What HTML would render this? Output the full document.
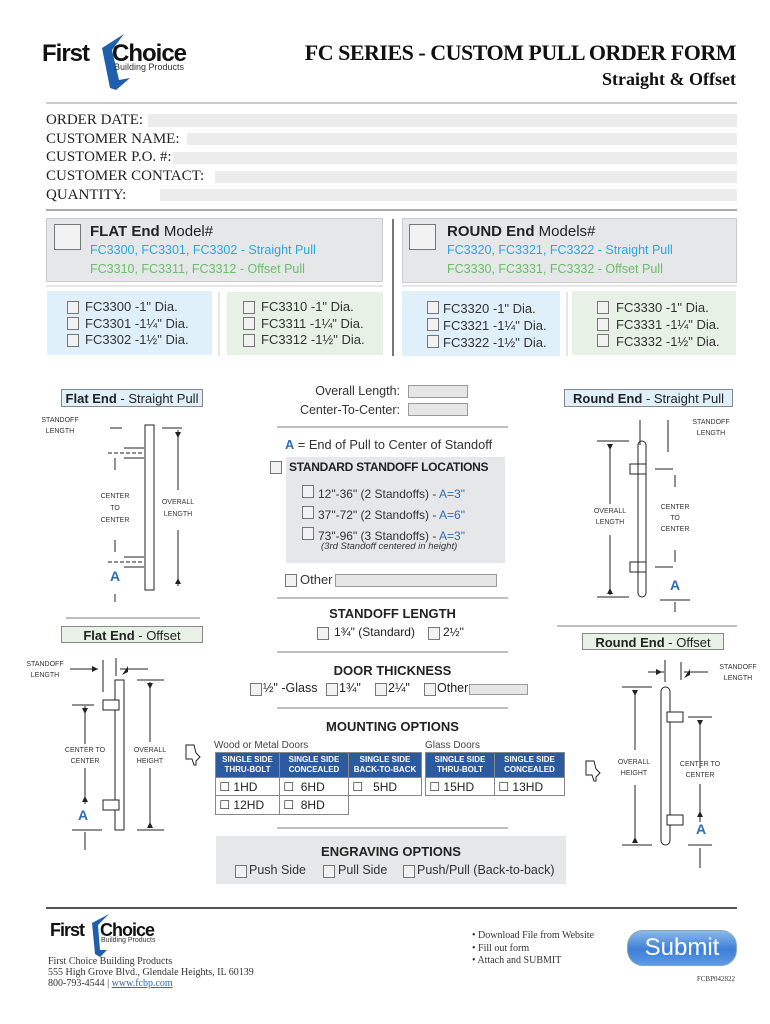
<!DOCTYPE html>
<html><head><meta charset="utf-8"><style>
*{margin:0;padding:0;box-sizing:border-box}
body{width:770px;height:1024px;background:#fff;position:relative;overflow:hidden;font-family:"Liberation Sans",sans-serif;color:#222}
.a{position:absolute;white-space:nowrap}
.s{font-family:"Liberation Serif",serif}
.n{font-family:"Liberation Sans Narrow","Liberation Sans",sans-serif}
.cb{position:absolute;width:12px;height:13px;border:1px solid #777;background:#f2f2f2}
.fld{position:absolute;background:#ececec}
.bx{position:absolute;background:#e6e7e8;border:1px solid #ccc}
.blue{color:#29a8e0}.green{color:#6abf69}.ab{color:#2f6db5}
.lbl{position:absolute;border:1px solid #888;font-size:13px;text-align:center;line-height:17px}
.tiny{font-size:7px;color:#333;text-align:center;line-height:11px}
th,td{border:1px solid #888}
</style></head><body>
<svg class="a" style="left:0;top:0" width="770" height="1024">
<path d="M124 34 L102 48 L110 88 L116 90 L130 78 L119 80 L112 50Z" fill="#1f5fae"/>
<line x1="46" y1="103" x2="737" y2="103" stroke="#bbb" stroke-width="1.5"/>
<line x1="46" y1="210" x2="737" y2="210" stroke="#aaa" stroke-width="2"/>
<line x1="46" y1="286" x2="383" y2="286" stroke="#ddd" stroke-width="1.5"/>
<line x1="402" y1="286" x2="737" y2="286" stroke="#ddd" stroke-width="1.5"/>
<line x1="393" y1="219" x2="393" y2="356" stroke="#777" stroke-width="2"/>
<line x1="219" y1="292" x2="219" y2="356" stroke="#ccc"/>
<line x1="567" y1="292" x2="567" y2="356" stroke="#ccc"/>
<line x1="277" y1="427" x2="508" y2="427" stroke="#aaa" stroke-width="1.5"/>
<line x1="277" y1="598" x2="508" y2="598" stroke="#aaa" stroke-width="1.5"/>
<line x1="277" y1="652" x2="508" y2="652" stroke="#aaa" stroke-width="1.5"/>
<line x1="277" y1="708" x2="508" y2="708" stroke="#aaa" stroke-width="1.5"/>
<line x1="277" y1="828" x2="508" y2="828" stroke="#aaa" stroke-width="1.5"/>
<line x1="66" y1="618" x2="200" y2="618" stroke="#aaa" stroke-width="1.5"/>
<line x1="557" y1="626" x2="737" y2="626" stroke="#aaa" stroke-width="1.5"/>
<line x1="46" y1="908" x2="737" y2="908" stroke="#555" stroke-width="2"/>
<g stroke="#222" fill="none" stroke-width="1">
<rect x="145" y="425" width="9" height="165" fill="#fff"/>
<path d="M124 448h20M124 458h20M124 557h20M124 567h20"/>
<path d="M108 453h36M108 562h36" stroke-dasharray="4 2"/>
<path d="M115 458v12M115 540v12M115 594v8"/>
<path d="M110 428h12M162 428h20M178 430v60M178 530v56"/>
<rect x="638" y="441" width="8" height="156" rx="4" fill="#fff"/>
<path d="M630 464h16v10h-16zM630 562h16v10h-16z"/>
<path d="M597 441h32M597 597h32M610 444v60M610 535v60"/>
<path d="M640 420v25M668 420v32M655 469h18M655 567h18M675 475v12M675 550v12M660 600h30M675 602v10"/>
<rect x="115" y="680" width="9" height="150" fill="#fff"/>
<rect x="103" y="700" width="16" height="10" fill="#fff"/>
<rect x="103" y="800" width="16" height="10" fill="#fff"/>
<path d="M103 660v32M116 658v18M70 669h28M120 669h28"/>
<path d="M72 705h22M85 706v38M85 768v36M72 830h30M85 832v18"/>
<path d="M137 680h27M137 830h27M150 682v60M150 768v60"/>
<path d="M186 745h8l2 8l4 4l-4 4v4h-2l-2-6h-6z"/>
<rect x="661" y="687" width="9" height="158" rx="4.5" fill="#fff"/>
<rect x="667" y="712" width="16" height="10" fill="#fff"/>
<rect x="667" y="815" width="16" height="10" fill="#fff"/>
<path d="M665 660v22M681 662v18M648 672h16M684 672h24"/>
<path d="M622 687h30M622 845h30M635 690v60M635 785v58"/>
<path d="M688 717h24M700 720v48M700 784v38M688 845h24M700 848v20"/>
<path d="M586 761h8l2 8l4 4l-4 4v4h-2l-2-6h-6z"/>
</g>
<g fill="#222"><path d="M175 432h6l-3 6zM175 584h6l-3-6zM607 444h6l-3 6zM607 594h6l-3-6zM82 708h6l-3 6zM82 802h6l-3-6zM147 683h6l-3 6zM147 828h6l-3-6zM632 690h6l-3 6zM632 843h6l-3-6zM697 720h6l-3 6zM697 817h6l-3-6zM92 666v6l6-3zM128 666v6l-6 3zM656 669v6l6-3zM690 669v6l-6 3z"/></g>
</svg>

<div class="a" style="left:42px;top:40px;font:bold 24px 'Liberation Sans',sans-serif;letter-spacing:-1px;color:#111">First</div>
<div class="a" style="left:112px;top:40px;font:bold 24px 'Liberation Sans',sans-serif;letter-spacing:-1px;color:#111">Choice</div>
<div class="a" style="left:114px;top:62px;font-size:9px;color:#333">Building Products</div>
<div class="a s" style="right:34px;top:40px;font-size:22px;font-weight:bold;letter-spacing:-0.5px;color:#111">FC SERIES - CUSTOM PULL ORDER FORM</div>
<div class="a s" style="right:34px;top:69px;font-size:18px;font-weight:bold;color:#111">Straight &amp; Offset</div>

<div class="a s" style="left:46px;top:111px;font-size:15px;line-height:18.7px;color:#222">ORDER DATE:<br>CUSTOMER NAME:<br>CUSTOMER P.O. #:<br>CUSTOMER CONTACT:<br>QUANTITY:</div>
<div class="fld" style="left:148px;top:114px;width:589px;height:13px"></div>
<div class="fld" style="left:187px;top:133px;width:550px;height:12px"></div>
<div class="fld" style="left:173px;top:152px;width:564px;height:12px"></div>
<div class="fld" style="left:215px;top:171px;width:522px;height:12px"></div>
<div class="fld" style="left:160px;top:189px;width:577px;height:12px"></div>

<div class="bx" style="left:46px;top:218px;width:337px;height:64px"></div>
<div class="bx" style="left:402px;top:218px;width:335px;height:65px"></div>
<div class="cb" style="left:54px;top:224px;width:27px;height:26px"></div>
<div class="cb" style="left:409px;top:224px;width:27px;height:26px"></div>
<div class="a" style="left:90px;top:223px;font-size:15px"><b>FLAT End</b> Model#</div>
<div class="a n blue" style="left:90px;top:243px;font-size:12.5px">FC3300, FC3301, FC3302 - Straight Pull</div>
<div class="a n green" style="left:90px;top:262px;font-size:12.5px">FC3310, FC3311, FC3312 - Offset Pull</div>
<div class="a" style="left:447px;top:223px;font-size:15px"><b>ROUND End</b> Models#</div>
<div class="a n blue" style="left:447px;top:243px;font-size:12.5px">FC3320, FC3321, FC3322 - Straight Pull</div>
<div class="a n green" style="left:447px;top:262px;font-size:12.5px">FC3330, FC3331, FC3332 - Offset Pull</div>

<div class="a" style="left:47px;top:291px;width:165px;height:64px;background:#e0f0fa"></div>
<div class="a" style="left:227px;top:292px;width:156px;height:63px;background:#e8f1e6"></div>
<div class="a" style="left:402px;top:291px;width:158px;height:65px;background:#e0f0fa"></div>
<div class="a" style="left:572px;top:291px;width:164px;height:64px;background:#e8f1e6"></div>
<div class="cb" style="left:67px;top:301px"></div><div class="cb" style="left:67px;top:317px"></div><div class="cb" style="left:67px;top:334px"></div>
<div class="cb" style="left:243px;top:301px"></div><div class="cb" style="left:243px;top:317px"></div><div class="cb" style="left:243px;top:334px"></div>
<div class="cb" style="left:427px;top:301px"></div><div class="cb" style="left:427px;top:318px"></div><div class="cb" style="left:427px;top:335px"></div>
<div class="cb" style="left:597px;top:301px"></div><div class="cb" style="left:597px;top:318px"></div><div class="cb" style="left:597px;top:334px"></div>
<div class="a n" style="left:85px;top:299px;font-size:13px;line-height:16.5px;color:#333">FC3300 -1" Dia.<br>FC3301 -1¼" Dia.<br>FC3302 -1½" Dia.</div>
<div class="a n" style="left:261px;top:299px;font-size:13px;line-height:16.5px;color:#333">FC3310 -1" Dia.<br>FC3311 -1¼" Dia.<br>FC3312 -1½" Dia.</div>
<div class="a n" style="left:443px;top:300px;font-size:13px;line-height:17px;color:#333">FC3320 -1" Dia.<br>FC3321 -1¼" Dia.<br>FC3322 -1½" Dia.</div>
<div class="a n" style="left:616px;top:299px;font-size:13px;line-height:17px;color:#333">FC3330 -1" Dia.<br>FC3331 -1¼" Dia.<br>FC3332 -1½" Dia.</div>

<div class="lbl n" style="left:61px;top:389px;width:142px;height:18px;background:#e0f0fa"><b>Flat End</b> - Straight Pull</div>
<div class="lbl n" style="left:564px;top:389px;width:169px;height:18px;background:#e0f0fa"><b>Round End</b> - Straight Pull</div>
<div class="lbl n" style="left:61px;top:626px;width:142px;height:17px;background:#e8f1e6"><b>Flat End</b> - Offset</div>
<div class="lbl n" style="left:582px;top:633px;width:142px;height:17px;background:#e8f1e6"><b>Round End</b> - Offset</div>

<div class="a tiny" style="left:40px;top:415px;width:40px">STANDOFF<br>LENGTH</div>
<div class="a tiny" style="left:95px;top:491px;width:40px;line-height:12px">CENTER<br>TO<br>CENTER</div>
<div class="a tiny" style="left:158px;top:497px;width:40px;line-height:12px">OVERALL<br>LENGTH</div>
<div class="a ab" style="left:110px;top:568px;font-size:14px;font-weight:bold">A</div>
<div class="a tiny" style="left:691px;top:417px;width:40px">STANDOFF<br>LENGTH</div>
<div class="a tiny" style="left:590px;top:506px;width:40px">OVERALL<br>LENGTH</div>
<div class="a tiny" style="left:655px;top:502px;width:40px">CENTER<br>TO<br>CENTER</div>
<div class="a ab" style="left:670px;top:577px;font-size:14px;font-weight:bold">A</div>
<div class="a tiny" style="left:25px;top:659px;width:40px">STANDOFF<br>LENGTH</div>
<div class="a tiny" style="left:63px;top:745px;width:44px">CENTER TO<br>CENTER</div>
<div class="a tiny" style="left:130px;top:745px;width:40px">OVERALL<br>HEIGHT</div>
<div class="a ab" style="left:78px;top:807px;font-size:14px;font-weight:bold">A</div>
<div class="a tiny" style="left:718px;top:662px;width:40px">STANDOFF<br>LENGTH</div>
<div class="a tiny" style="left:614px;top:757px;width:40px">OVERALL<br>HEIGHT</div>
<div class="a tiny" style="left:678px;top:759px;width:44px">CENTER TO<br>CENTER</div>
<div class="a ab" style="left:696px;top:821px;font-size:14px;font-weight:bold">A</div>

<div class="a n" style="right:370px;top:384px;font-size:12.5px;color:#333">Overall Length:</div>
<div class="fld" style="left:408px;top:385px;width:60px;height:13px;border:1px solid #999;background:#e6e6e6"></div>
<div class="a n" style="right:370px;top:403px;font-size:12.5px;color:#333">Center-To-Center:</div>
<div class="fld" style="left:408px;top:403px;width:60px;height:13px;border:1px solid #999;background:#e6e6e6"></div>
<div class="a n" style="left:285px;top:437px;font-size:12.8px;color:#333"><b class="ab">A</b> = End of Pull to Center of Standoff</div>
<div class="a" style="left:286px;top:457px;width:219px;height:106px;background:#e6e7e8"></div>
<div class="cb" style="left:270px;top:461px"></div>
<div class="a n" style="left:289px;top:460px;font-size:12px;font-weight:bold;letter-spacing:-0.3px">STANDARD STANDOFF LOCATIONS</div>
<div class="cb" style="left:302px;top:485px"></div><div class="cb" style="left:302px;top:506px"></div><div class="cb" style="left:302px;top:527px"></div>
<div class="a n" style="left:318px;top:484px;font-size:12px;line-height:21px;color:#333">12"-36" (2 Standoffs) - <span class="ab">A=3"</span><br>37"-72" (2 Standoffs) - <span class="ab">A=6"</span><br>73"-96" (3 Standoffs) - <span class="ab">A=3"</span></div>
<div class="a n" style="left:321px;top:541px;font-size:9.5px;font-style:italic;color:#333">(3rd Standoff centered in height)</div>
<div class="cb" style="left:285px;top:574px"></div>
<div class="a n" style="left:300px;top:572px;font-size:13px;color:#333">Other</div>
<div class="fld" style="left:335px;top:574px;width:162px;height:13px;border:1px solid #999;background:#e6e6e6"></div>

<div class="a n" style="left:277px;width:231px;text-align:center;top:606px;font-size:13px;font-weight:bold">STANDOFF LENGTH</div>
<div class="cb" style="left:317px;top:627px"></div><div class="a n" style="left:334px;top:625px;font-size:12px">1¾" (Standard)</div>
<div class="cb" style="left:428px;top:627px"></div><div class="a n" style="left:443px;top:625px;font-size:12px">2½"</div>

<div class="a n" style="left:277px;width:231px;text-align:center;top:663px;font-size:13px;font-weight:bold">DOOR THICKNESS</div>
<div class="cb" style="left:250px;top:683px"></div><div class="a n" style="left:263px;top:681px;font-size:12.5px">½" -Glass</div>
<div class="cb" style="left:326px;top:683px"></div><div class="a n" style="left:339px;top:681px;font-size:12.5px">1¾"</div>
<div class="cb" style="left:375px;top:683px"></div><div class="a n" style="left:388px;top:681px;font-size:12.5px">2¼"</div>
<div class="cb" style="left:424px;top:683px"></div><div class="a n" style="left:437px;top:681px;font-size:12.5px">Other</div>
<div class="fld" style="left:469px;top:684px;width:59px;height:11px;border:1px solid #999;background:#e6e6e6"></div>

<div class="a n" style="left:277px;width:231px;text-align:center;top:719px;font-size:13px;font-weight:bold">MOUNTING OPTIONS</div>
<div class="a n" style="left:214px;top:740px;font-size:10px;color:#444">Wood or Metal Doors</div>
<div class="a n" style="left:425px;top:740px;font-size:10px;color:#444">Glass Doors</div>
<table class="a n" style="left:215px;top:752px;border-collapse:collapse;font-size:12px">
<tr style="background:#2c5aa0;color:#fff;font-size:8px;font-weight:bold;height:25px;text-align:center;line-height:10px"><th style="width:64px">SINGLE SIDE<br>THRU-BOLT</th><th style="width:69px">SINGLE SIDE<br>CONCEALED</th><th style="width:73px">SINGLE SIDE<br>BACK-TO-BACK</th></tr>
<tr style="height:18px"><td>&nbsp;&#9744; 1HD</td><td>&nbsp;&#9744; &nbsp;6HD</td><td>&nbsp;&#9744; &nbsp;&nbsp;5HD</td></tr>
<tr style="height:19px"><td>&nbsp;&#9744; 12HD</td><td>&nbsp;&#9744; &nbsp;8HD</td><td style="border:none"></td></tr>
</table>
<table class="a n" style="left:425px;top:752px;border-collapse:collapse;font-size:12px">
<tr style="background:#2c5aa0;color:#fff;font-size:8px;font-weight:bold;height:25px;text-align:center;line-height:10px"><th style="width:69px">SINGLE SIDE<br>THRU-BOLT</th><th style="width:70px">SINGLE SIDE<br>CONCEALED</th></tr>
<tr style="height:18px"><td>&nbsp;&#9744; 15HD</td><td>&nbsp;&#9744; 13HD</td></tr>
</table>

<div class="a" style="left:216px;top:836px;width:350px;height:48px;background:#e6e7e8"></div>
<div class="a n" style="left:216px;width:350px;text-align:center;top:844px;font-size:13px;font-weight:bold">ENGRAVING OPTIONS</div>
<div class="cb" style="left:235px;top:865px"></div><div class="a n" style="left:249px;top:863px;font-size:12.5px;color:#333">Push Side</div>
<div class="cb" style="left:323px;top:865px"></div><div class="a n" style="left:338px;top:863px;font-size:12.5px;color:#333">Pull Side</div>
<div class="cb" style="left:403px;top:865px"></div><div class="a n" style="left:417px;top:863px;font-size:12.5px;color:#333">Push/Pull (Back-to-back)</div>

<svg class="a" style="left:85px;top:914px" width="30" height="46"><path d="M24 0 L7 9 L10 40 L15 43 L22 36 L15 36 L13 11Z" fill="#1f5fae"/></svg>
<div class="a" style="left:50px;top:920px;font:bold 18px 'Liberation Sans',sans-serif;letter-spacing:-1px;color:#111">First</div>
<div class="a" style="left:100px;top:920px;font:bold 18px 'Liberation Sans',sans-serif;letter-spacing:-1px;color:#111">Choice</div>
<div class="a" style="left:101px;top:937px;font-size:7px;color:#333">Building Products</div>
<div class="a s" style="left:48px;top:956px;font-size:10px;line-height:11px;color:#333">First Choice Building Products<br>555 High Grove Blvd., Glendale Heights, IL 60139<br>800-793-4544 | <span style="color:#2f6db5;text-decoration:underline">www.fcbp.com</span></div>
<div class="a s" style="left:472px;top:930px;font-size:10px;line-height:12.5px;color:#333">• Download File from Website<br>• Fill out form<br>• Attach and SUBMIT</div>
<div class="a" style="left:627px;top:930px;width:110px;height:36px;border-radius:16px;background:linear-gradient(#8bb8ec,#3d7fd6 55%,#5d9ae6);border:1px solid #8aa;color:#fff;font-size:24px;text-align:center;line-height:34px">Submit</div>
<div class="a s" style="right:35px;top:975px;font-size:7px;color:#333">FCBP042822</div>
</body></html>
